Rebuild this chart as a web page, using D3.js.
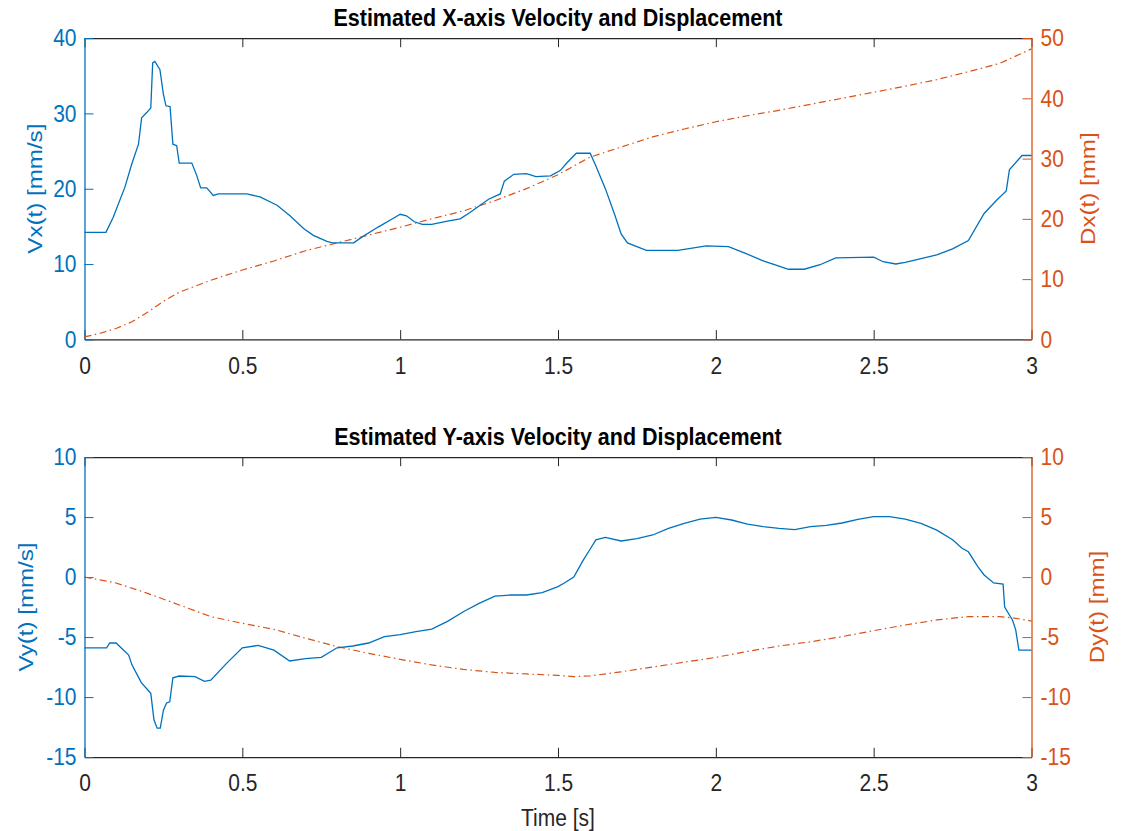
<!DOCTYPE html>
<html>
<head>
<meta charset="utf-8">
<script src="https://cdn.jsdelivr.net/npm/d3@7"></script>
<style>
body { margin: 0; background: #fff; }
svg { display: block; }
text { font-family: "Liberation Sans", Arial, Helvetica, sans-serif; }
</style>
</head>
<body>
<svg id="fig"></svg>
<script>
// tick values
var timeTicks = [0, 0.5, 1, 1.5, 2, 2.5, 3];
var vxTicks = [0, 10, 20, 30, 40];
var dxTicks = [0, 10, 20, 30, 40, 50];
var vyTicks = [-15, -10, -5, 0, 5, 10];
var dyTicks = [-15, -10, -5, 0, 5, 10];

// X-axis velocity [mm/s]
var vxTime = [0, 0.068, 0.091, 0.128, 0.15, 0.171, 0.181, 0.197, 0.21, 0.216, 0.223, 0.239, 0.25, 0.258, 0.271, 0.28, 0.292, 0.3, 0.34, 0.356, 0.368, 0.387, 0.408, 0.424, 0.514, 0.556, 0.61, 0.651, 0.694, 0.725, 0.768, 0.785, 0.853, 0.876, 0.93, 0.98, 1.0, 1.02, 1.045, 1.07, 1.1, 1.15, 1.19, 1.22, 1.25, 1.28, 1.317, 1.33, 1.36, 1.4, 1.43, 1.476, 1.507, 1.53, 1.558, 1.602, 1.62, 1.65, 1.68, 1.7, 1.72, 1.78, 1.88, 1.97, 2.04, 2.1, 2.15, 2.2, 2.23, 2.28, 2.33, 2.38, 2.5, 2.53, 2.57, 2.6, 2.7, 2.75, 2.8, 2.85, 2.89, 2.92, 2.93, 2.97, 3.0];
var vxValues = [14.2, 14.2, 16.2, 20.2, 23.3, 25.9, 29.4, 30.1, 30.7, 36.7, 36.9, 35.8, 32.5, 31, 30.9, 25.9, 25.7, 23.4, 23.4, 21.7, 20.1, 20.1, 19.1, 19.3, 19.3, 18.9, 17.8, 16.4, 14.7, 13.8, 13.0, 12.8, 12.8, 13.5, 14.9, 16.1, 16.6, 16.4, 15.6, 15.25, 15.25, 15.7, 16.0, 16.8, 17.7, 18.6, 19.3, 21.0, 21.9, 22.0, 21.6, 21.7, 22.4, 23.5, 24.7, 24.7, 23, 20, 16.5, 14.0, 12.8, 11.8, 11.8, 12.4, 12.3, 11.3, 10.4, 9.7, 9.3, 9.3, 9.9, 10.8, 10.9, 10.3, 10.0, 10.2, 11.2, 12, 13.1, 16.7, 18.5, 19.7, 22.5, 24.4, 24.4];

// X-axis displacement [mm]
var dxTime = [0, 0.05, 0.1, 0.15, 0.2, 0.25, 0.3, 0.4, 0.5, 0.6, 0.7, 0.8, 0.9, 1.0, 1.1, 1.2, 1.3, 1.4, 1.5, 1.6, 1.7, 1.8, 1.9, 2.0, 2.1, 2.2, 2.3, 2.4, 2.5, 2.6, 2.7, 2.8, 2.9, 3.0];
var dxValues = [0.4, 1.0, 1.8, 2.9, 4.5, 6.3, 7.8, 9.8, 11.5, 13.0, 14.7, 16.0, 17.3, 18.6, 20, 21.3, 23, 25, 27.3, 30.2, 31.9, 33.6, 34.9, 36.1, 37.1, 38, 39, 40, 41, 42, 43.1, 44.4, 45.8, 48.2];

// Y-axis velocity [mm/s]
var vyTime = [0, 0.07, 0.08, 0.1, 0.12, 0.14, 0.15, 0.17, 0.18, 0.2, 0.21, 0.22, 0.23, 0.24, 0.25, 0.26, 0.27, 0.28, 0.3, 0.35, 0.38, 0.4, 0.45, 0.5, 0.55, 0.6, 0.65, 0.7, 0.75, 0.8, 0.85, 0.9, 0.95, 1.0, 1.05, 1.1, 1.15, 1.2, 1.25, 1.3, 1.35, 1.4, 1.45, 1.5, 1.52, 1.55, 1.58, 1.6, 1.62, 1.65, 1.7, 1.75, 1.8, 1.85, 1.9, 1.95, 2.0, 2.05, 2.1, 2.15, 2.2, 2.25, 2.3, 2.35, 2.4, 2.45, 2.5, 2.55, 2.6, 2.65, 2.7, 2.75, 2.78, 2.8, 2.83, 2.85, 2.88, 2.91, 2.915, 2.94, 2.95, 2.96, 3.0];
var vyValues = [-5.9, -5.9, -5.5, -5.5, -6.0, -6.5, -7.3, -8.3, -8.8, -9.4, -9.7, -11.9, -12.6, -12.6, -11.1, -10.5, -10.4, -8.4, -8.25, -8.3, -8.7, -8.6, -7.2, -5.9, -5.7, -6.1, -7.0, -6.8, -6.7, -5.9, -5.75, -5.5, -4.97, -4.8, -4.56, -4.35, -3.7, -2.9, -2.2, -1.6, -1.5, -1.5, -1.3, -0.8, -0.5, 0.0, 1.4, 2.25, 3.1, 3.3, 3.0, 3.2, 3.5, 4.05, 4.47, 4.83, 4.97, 4.75, 4.4, 4.2, 4.05, 3.95, 4.2, 4.3, 4.5, 4.8, 5.03, 5.03, 4.83, 4.47, 3.9, 3.1, 2.4, 2.1, 0.86, 0.17, -0.5, -0.6, -2.5, -3.6, -4.4, -6.1, -6.1];

// Y-axis displacement [mm]
var dyTime = [0, 0.1, 0.2, 0.3, 0.4, 0.5, 0.6, 0.7, 0.8, 0.9, 1.0, 1.1, 1.2, 1.3, 1.4, 1.5, 1.55, 1.6, 1.7, 1.8, 1.9, 2.0, 2.1, 2.2, 2.3, 2.4, 2.5, 2.6, 2.7, 2.8, 2.9, 2.95, 3.0];
var dyValues = [0, -0.5, -1.36, -2.33, -3.3, -3.86, -4.36, -5.1, -5.8, -6.36, -6.86, -7.33, -7.7, -7.95, -8.08, -8.2, -8.3, -8.25, -7.9, -7.5, -7.1, -6.7, -6.2, -5.75, -5.4, -4.97, -4.47, -4.0, -3.58, -3.3, -3.3, -3.44, -3.67];

var W = 1122, Hpx = 831;
var SY = 1.15;              // the figure is stretched vertically
var H = Hpx / SY;
var blue = "#0072BD", orange = "#D95319", grey = "#262626";

var svg = d3.select("#fig")
    .attr("width", W)
    .attr("height", Hpx)
    .attr("viewBox", "0 0 " + W + " " + H)
    .attr("preserveAspectRatio", "none");

var left = 84.5, right = 1031.5;
var x = d3.scaleLinear().domain([0, 3]).range([left, right]);
var plain = function (d) { return String(d); };   // hyphen minus, like matlab

function pairs(t, v) {
    return t.map(function (d, i) { return [d, v[i]]; });
}

function drawPanel(p) {
    var yL = d3.scaleLinear().domain(p.leftDomain).range([p.bottom, p.top]);
    var yR = d3.scaleLinear().domain(p.rightDomain).range([p.bottom, p.top]);
    var g = svg.append("g");

    // bottom axis
    var gx = g.append("g")
        .attr("transform", "translate(0," + p.bottom + ")")
        .call(d3.axisBottom(x).tickValues(timeTicks).tickSize(-8).tickSizeOuter(0)
            .tickPadding(15).tickFormat(plain));
    // top border with ticks
    var gt = g.append("g")
        .attr("transform", "translate(0," + p.top + ")")
        .call(d3.axisTop(x).tickValues(timeTicks).tickSize(-8).tickSizeOuter(0).tickFormat(""));
    [gx, gt].forEach(function (a) {
        a.selectAll("path, line").attr("stroke", grey).attr("vector-effect", "non-scaling-stroke");
        a.selectAll("text").attr("fill", grey).style("font-size", "21px");
    });

    // left and right axes
    var gl = g.append("g")
        .attr("transform", "translate(" + left + ",0)")
        .call(d3.axisLeft(yL).tickValues(p.leftTicks).tickSize(-9).tickSizeOuter(0)
            .tickPadding(8).tickFormat(plain));
    var gr = g.append("g")
        .attr("transform", "translate(" + right + ",0)")
        .call(d3.axisRight(yR).tickValues(p.rightTicks).tickSize(-9).tickSizeOuter(0)
            .tickPadding(9).tickFormat(plain));
    gl.selectAll("path, line").attr("stroke", blue).attr("vector-effect", "non-scaling-stroke");
    gl.selectAll("text").attr("fill", blue).style("font-size", "21px");
    gr.selectAll("path, line").attr("stroke", orange).attr("vector-effect", "non-scaling-stroke");
    gr.selectAll("text").attr("fill", orange).style("font-size", "21px");
    g.selectAll(".domain").attr("stroke-width", 1.3);

    // curves
    g.append("path")
        .datum(pairs(p.dispTime, p.dispValues))
        .attr("fill", "none")
        .attr("stroke", orange)
        .attr("stroke-width", 1.2)
        .attr("stroke-dasharray", "7,3.5,1.5,3.5")
        .attr("vector-effect", "non-scaling-stroke")
        .attr("d", d3.line().x(function (d) { return x(d[0]); }).y(function (d) { return yR(d[1]); }));
    g.append("path")
        .datum(pairs(p.velTime, p.velValues))
        .attr("fill", "none")
        .attr("stroke", blue)
        .attr("stroke-width", 1.3)
        .attr("vector-effect", "non-scaling-stroke")
        .attr("d", d3.line().x(function (d) { return x(d[0]); }).y(function (d) { return yL(d[1]); }));

    // title
    g.append("text")
        .attr("x", (left + right) / 2)
        .attr("y", p.titleY)
        .attr("text-anchor", "middle")
        .attr("font-weight", "bold")
        .style("font-size", "21.5px")
        .attr("fill", "#000")
        .text(p.title);

    var mid = (p.top + p.bottom) / 2;
    g.append("text")
        .attr("transform", "translate(" + p.leftLabelX + "," + mid + ") rotate(-90)")
        .attr("dy", "0.35em")
        .attr("text-anchor", "middle")
        .attr("fill", blue)
        .style("font-size", "21px")
        .text(p.leftLabel);
    g.append("text")
        .attr("transform", "translate(" + p.rightLabelX + "," + mid + ") rotate(-90)")
        .attr("dy", "0.35em")
        .attr("text-anchor", "middle")
        .attr("fill", orange)
        .style("font-size", "21px")
        .text(p.rightLabel);
}

drawPanel({
    top: 38 / SY, bottom: 339.3 / SY, titleY: 26 / SY,
    leftDomain: [0, 40], rightDomain: [0, 50],
    leftTicks: vxTicks, rightTicks: dxTicks,
    velTime: vxTime, velValues: vxValues,
    dispTime: dxTime, dispValues: dxValues,
    title: "Estimated X-axis Velocity and Displacement",
    leftLabel: "Vx(t) [mm/s]", rightLabel: "Dx(t) [mm]",
    leftLabelX: 35, rightLabelX: 1088
});

drawPanel({
    top: 457 / SY, bottom: 757 / SY, titleY: 445 / SY,
    leftDomain: [-15, 10], rightDomain: [-15, 10],
    leftTicks: vyTicks, rightTicks: dyTicks,
    velTime: vyTime, velValues: vyValues,
    dispTime: dyTime, dispValues: dyValues,
    title: "Estimated Y-axis Velocity and Displacement",
    leftLabel: "Vy(t) [mm/s]", rightLabel: "Dy(t) [mm]",
    leftLabelX: 26, rightLabelX: 1097
});

svg.append("text")
    .attr("x", (left + right) / 2)
    .attr("y", 826 / SY)
    .attr("text-anchor", "middle")
    .attr("fill", grey)
    .style("font-size", "21px")
    .text("Time [s]");
</script>
</body>
</html>
